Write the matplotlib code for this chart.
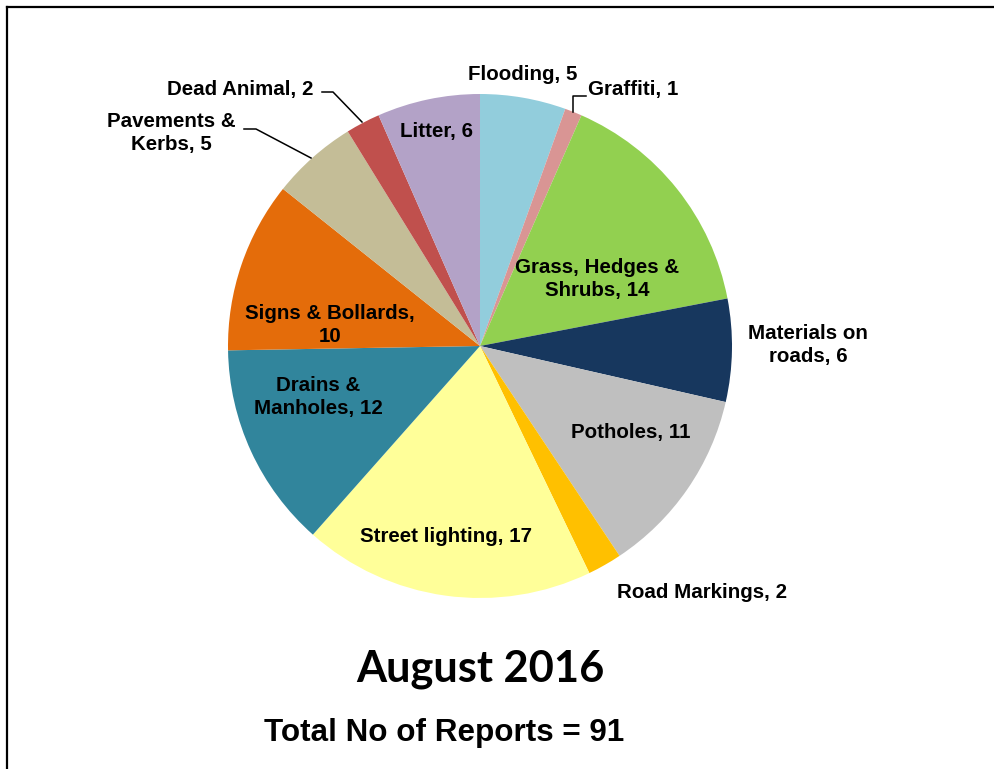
import matplotlib
matplotlib.use("Agg")
import matplotlib.pyplot as plt
from matplotlib.lines import Line2D

categories = ["Flooding", "Graffiti", "Grass, Hedges &\nShrubs", "Materials on\nroads",
              "Potholes", "Road Markings", "Street lighting", "Drains &\nManholes",
              "Signs & Bollards,\n", "Pavements &\nKerbs", "Dead Animal", "Litter"]
values = [5, 1, 14, 6, 11, 2, 17, 12, 10, 5, 2, 6]
colors = ["#92CDDC", "#D99594", "#92D050", "#17375E", "#BFBFBF", "#FFC000",
          "#FFFF99", "#31859C", "#E46C0A", "#C4BD97", "#C0504D", "#B3A2C7"]
title = "August 2016"
subtitle = "Total No of Reports = 91"

W, H = 995, 769
fig = plt.figure(figsize=(W / 100, H / 100), dpi=100)
ax = fig.add_axes([0, 0, 1, 1])
ax.set_xlim(0, W)
ax.set_ylim(0, H)
ax.set_aspect("equal")
ax.axis("off")

def Y(y):
    return H - y

cx, cy, r = 480, Y(346), 252
ax.pie(values, colors=colors, startangle=90, counterclock=False,
       center=(cx, cy), radius=r, wedgeprops=dict(linewidth=0), frame=True)
ax.set_xlim(0, W)
ax.set_ylim(0, H)
ax.axis("off")

def label_text(i):
    name = categories[i]
    if name.endswith(",\n"):
        return name[:-2] + ",\n" + str(values[i])
    return f"{name}, {values[i]}"

# label positions (image px) and alignment
pos = [
    (523, 75, "center"),
    (588, 89, "left"),
    (597, 279, "center"),
    (808, 345, "center"),
    (631, 433, "center"),
    (702, 592, "center"),
    (446, 536, "center"),
    (318, 397, "center"),
    (330, 325, "center"),
    (171, 133, "center"),
    (240, 90, "center"),
    (436, 131, "center"),
]
font = dict(family=["Liberation Sans", "DejaVu Sans"], weight="bold", fontsize=14.8)
for i, (x, y, ha) in enumerate(pos):
    ax.text(x, Y(y), label_text(i), ha=ha, va="center", color="black",
            linespacing=1.33, **font)

# leader lines
leaders = [
    [(573, 112), (573, 96), (586, 96)],
    [(244, 129), (256, 129), (311, 158)],
    [(322, 92), (333, 92), (362, 122)],
]
for pts in leaders:
    xs = [p[0] for p in pts]
    ys = [Y(p[1]) for p in pts]
    ax.add_line(Line2D(xs, ys, color="black", linewidth=1.1))

ax.text(480, Y(669), title, ha="center", va="center",
        family=["Lato", "DejaVu Sans"], weight="bold", fontsize=31.2)
ax.text(444, Y(733), subtitle, ha="center", va="center",
        family=["Liberation Sans", "DejaVu Sans"], weight="bold", fontsize=22.6)

# frame lines (left and top)
ax.add_line(Line2D([6.5, 6.5], [0, Y(6.5)], color="black", linewidth=1.6))
ax.add_line(Line2D([6.5, W], [Y(6.5), Y(6.5)], color="black", linewidth=1.6))

fig.savefig("out.png", dpi=100)
